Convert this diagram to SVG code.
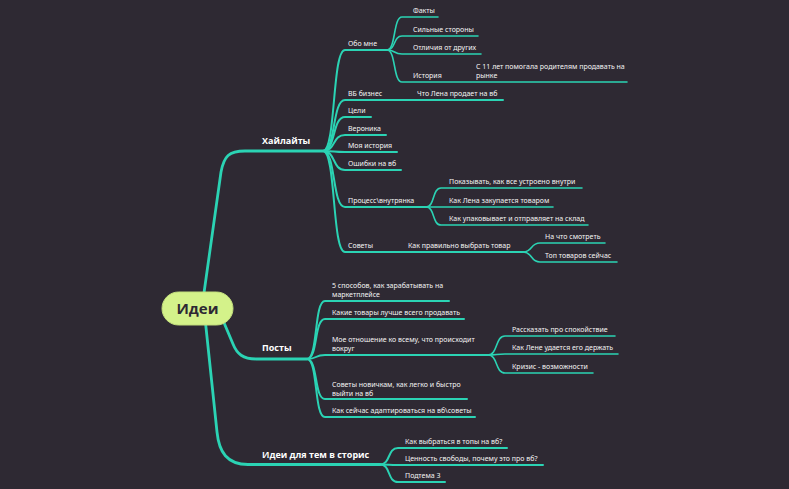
<svg xmlns="http://www.w3.org/2000/svg" width="789" height="489" viewBox="0 0 789 489">
<style>
.bg{fill:#2e2933}
.l{fill:none;stroke:#2bd3b4;stroke-linecap:round;stroke-linejoin:round}
.m{stroke-width:2.8}
.c{stroke-width:2}
.g{stroke-width:1.6}
.t{font-family:"Noto Sans","Open Sans",sans-serif;font-size:7px;fill:#f4f4f4}
.b{font-family:"Open Sans","Noto Sans",sans-serif;font-size:9px;font-weight:bold;fill:#ffffff}
.r{font-family:"Open Sans","Noto Sans",sans-serif;font-size:15px;font-weight:bold;fill:#2e2933;text-anchor:middle}
</style>
<rect class="bg" x="0" y="0" width="789" height="489"/>
<g id="connectors">
<path class="l m" d="M203,300 L221,172 C224,156 229,151 245,151 H323"/>
<path class="l m" d="M222,318 L233,344 C237,354 243,359 256,359 H307"/>
<path class="l m" d="M205,318 L217,432 C219,452 227,464.5 248,464.5 H380"/>
<path class="l c" d="M323,151 C336,151 332,50 345,50 H387"/>
<path class="l c" d="M323,151 C336,151 332,100 345,100 H503"/>
<path class="l c" d="M323,151 C336,151 332,117 345,117 H371"/>
<path class="l c" d="M323,151 C336,151 332,135 345,135 H386"/>
<path class="l c" d="M323,151 C336,151 332,152 345,152 H397"/>
<path class="l c" d="M323,151 C336,151 332,170 345,170 H401"/>
<path class="l c" d="M323,151 C336,151 332,207 345,207 H426"/>
<path class="l c" d="M323,151 C336,151 332,252 345,252 H523"/>
<path class="l g" d="M387,50 C396,50 393,17 402,17 H438"/>
<path class="l g" d="M387,50 C396,50 393,36 402,36 H478"/>
<path class="l g" d="M387,50 C396,50 393,54 402,54 H481"/>
<path class="l g" d="M387,50 C396,50 393,82 402,82 H627"/>
<path class="l g" d="M426,207 C435,207 432,188 441,188 H582"/>
<path class="l g" d="M426,207 C435,207 432,207 441,207 H553"/>
<path class="l g" d="M426,207 C435,207 432,225 441,225 H588"/>
<path class="l g" d="M523,252 C533,252 530,243 540,243 H605"/>
<path class="l g" d="M523,252 C533,252 530,262 540,262 H617"/>
<path class="l c" d="M307,359 C318,359 314,301 325,301 H449"/>
<path class="l c" d="M307,359 C318,359 314,319 325,319 H464"/>
<path class="l c" d="M307,359 C318,359 314,355 325,355 H488"/>
<path class="l c" d="M307,359 C318,359 314,399 325,399 H467"/>
<path class="l c" d="M307,359 C318,359 314,417 325,417 H475"/>
<path class="l g" d="M488,355 C498,355 495,336 505,336 H615"/>
<path class="l g" d="M488,355 C498,355 495,354 505,354 H618"/>
<path class="l g" d="M488,355 C498,355 495,373 505,373 H593"/>
<path class="l c" d="M380,464.5 C391,464.5 387,448 398,448 H507"/>
<path class="l c" d="M380,464.5 C391,464.5 387,465 398,465 H543"/>
<path class="l c" d="M380,464.5 C391,464.5 387,482 398,482 H445"/>
</g>
<g id="root"><rect x="162" y="292" width="71" height="33" rx="16.5" fill="#d4f28a" stroke="#c2de7c" stroke-width="1"/><text class="r" x="197.5" y="314">Идеи</text></g>
<g id="highlights"><text class="b" x="262" y="144">Хайлайты</text></g>
<g id="posts"><text class="b" x="262" y="351">Посты</text></g>
<g id="stories"><text class="b" x="262" y="458">Идеи для тем в сторис</text></g>
<g id="about"><text class="t" x="348" y="46">Обо мне</text></g>
<g id="facts"><text class="t" x="413" y="13">Факты</text></g>
<g id="strengths"><text class="t" x="413" y="32">Сильные стороны</text></g>
<g id="diffs"><text class="t" x="413" y="50">Отличия от других</text></g>
<g id="history"><text class="t" x="413" y="78">История</text></g>
<g id="history-text"><text class="t" x="476" y="69">С 11 лет помогала родителям продавать на</text><text class="t" x="476" y="78">рынке</text></g>
<g id="wb"><text class="t" x="348" y="96">ВБ бизнес</text></g>
<g id="wb-sells"><text class="t" x="417" y="96">Что Лена продает на вб</text></g>
<g id="goals"><text class="t" x="348" y="113">Цели</text></g>
<g id="veronika"><text class="t" x="348" y="131">Вероника</text></g>
<g id="mystory"><text class="t" x="348" y="148">Моя история</text></g>
<g id="mistakes"><text class="t" x="348" y="166">Ошибки на вб</text></g>
<g id="process"><text class="t" x="348" y="203">Процесс\внутрянка</text></g>
<g id="show"><text class="t" x="449" y="184">Показывать, как все устроено внутри</text></g>
<g id="buys"><text class="t" x="449" y="203">Как Лена закупается товаром</text></g>
<g id="packs"><text class="t" x="449" y="221">Как упаковывает и отправляет на склад</text></g>
<g id="tips"><text class="t" x="348" y="248">Советы</text></g>
<g id="choose"><text class="t" x="408" y="248">Как правильно выбрать товар</text></g>
<g id="look"><text class="t" x="545" y="239">На что смотреть</text></g>
<g id="top"><text class="t" x="545" y="258">Топ товаров сейчас</text></g>
<g id="ways"><text class="t" x="332" y="288">5 способов, как зарабатывать на</text><text class="t" x="332" y="297">маркетплейсе</text></g>
<g id="goods"><text class="t" x="332" y="315">Какие товары лучше всего продавать</text></g>
<g id="attitude"><text class="t" x="332" y="342">Мое отношение ко всему, что происходит</text><text class="t" x="332" y="351">вокруг</text></g>
<g id="calm"><text class="t" x="512" y="332">Рассказать про спокойствие</text></g>
<g id="keep"><text class="t" x="512" y="350">Как Лене удается его держать</text></g>
<g id="crisis"><text class="t" x="512" y="369">Кризис - возможности</text></g>
<g id="newbies"><text class="t" x="332" y="387">Советы новичкам, как легко и быстро</text><text class="t" x="332" y="395.5">выйти на вб</text></g>
<g id="adapt"><text class="t" x="332" y="413">Как сейчас адаптироваться на вб\советы</text></g>
<g id="topwb"><text class="t" x="405" y="444">Как выбраться в топы на вб?</text></g>
<g id="freedom"><text class="t" x="405" y="461">Ценность свободы, почему это про вб?</text></g>
<g id="sub3"><text class="t" x="405" y="478">Подтема 3</text></g>
</svg>
